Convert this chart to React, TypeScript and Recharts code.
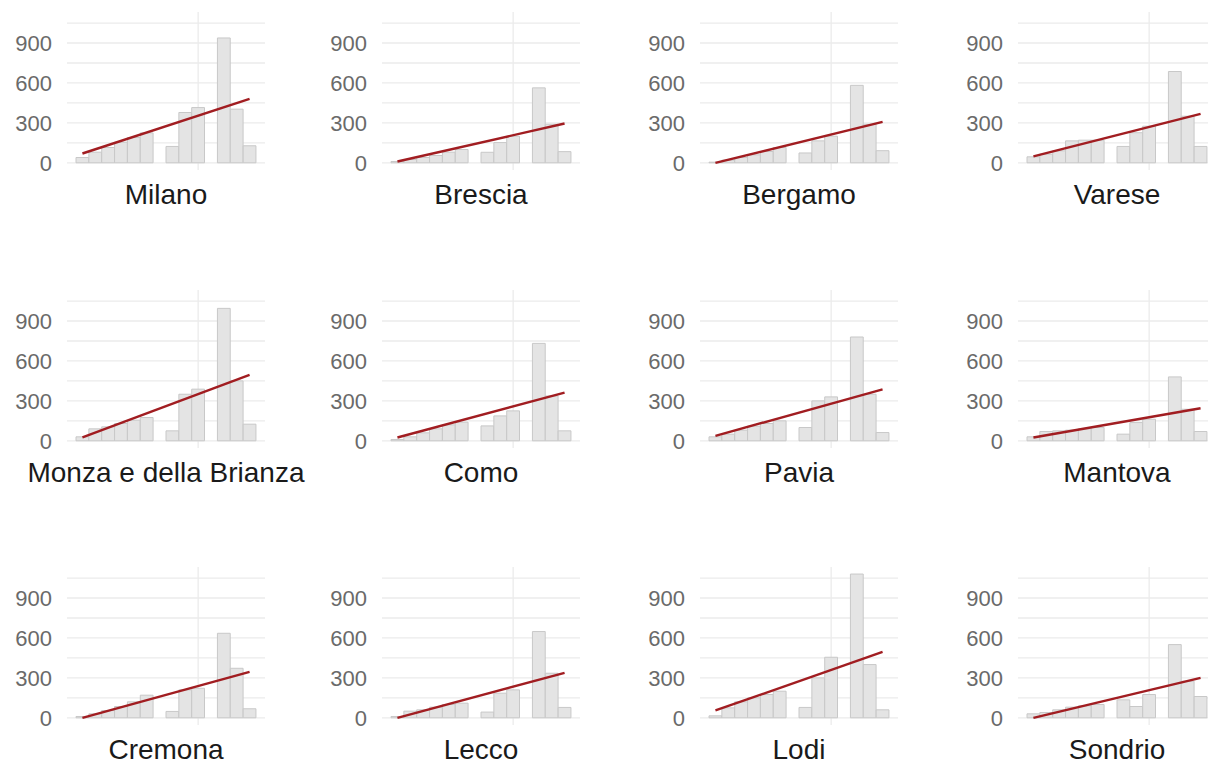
import { ComposedChart, Bar, Line, XAxis, YAxis, CartesianGrid } from 'recharts';

const provinces = [
  'Milano', 'Brescia', 'Bergamo', 'Varese',
  'Monza e della Brianza', 'Como', 'Pavia', 'Mantova',
  'Cremona', 'Lecco', 'Lodi', 'Sondrio',
];

// x slots of the bars (6 and 10 are empty)
const slots = [0, 1, 2, 3, 4, 5, 7, 8, 9, 11, 12, 13];

const milano = [40, 80, 115, 155, 190, 225, 123, 378, 415, 938, 403, 128];
const brescia = [10, 25, 40, 55, 80, 100, 79, 152, 200, 563, 290, 84];
const bergamo = [5, 20, 40, 60, 85, 115, 74, 165, 200, 582, 290, 91];
const varese = [45, 65, 90, 165, 170, 170, 123, 226, 275, 686, 350, 123];
const monza = [30, 90, 105, 130, 155, 175, 75, 350, 388, 995, 450, 125];
const como = [10, 30, 60, 90, 120, 140, 112, 187, 225, 732, 337, 75];
const pavia = [30, 50, 80, 110, 130, 150, 100, 300, 330, 780, 350, 62];
const mantova = [30, 70, 75, 80, 90, 100, 50, 137, 162, 480, 237, 70];
const cremona = [10, 30, 55, 85, 120, 170, 48, 210, 222, 635, 372, 68];
const lecco = [10, 50, 60, 80, 100, 110, 43, 185, 210, 648, 335, 78];
const lodi = [15, 75, 120, 150, 175, 200, 78, 300, 455, 1080, 400, 60];
const sondrio = [30, 40, 60, 80, 90, 100, 135, 85, 175, 550, 275, 160];

const counts = [milano, brescia, bergamo, varese, monza, como, pavia, mantova, cremona, lecco, lodi, sondrio];

// fitted trend at first and last slot
const trendStart = [70, 10, 0, 49, 25, 25, 37, 25, 0, 0, 55, 0];
const trendEnd = [480, 295, 307, 368, 495, 362, 387, 245, 345, 338, 495, 300];

const yTicks = [0, 300, 600, 900];
const gridValues = [0, 150, 300, 450, 600, 750, 900, 1050];

const colLeft = [67, 382, 700, 1018];
const rowTop = [12, 290, 567];
const PLOT_W = 198;
const PLOT_H = 158;
const AXIS_W = 67;
const PAD_B = 14;

function Panel({ index }: { index: number }) {
  const values = counts[index];
  const last = slots[slots.length - 1];
  const data = slots.map((slot, i) => ({
    slot,
    n: values[i],
    trend: slot === slots[0] ? trendStart[index] : slot === last ? trendEnd[index] : null,
  }));
  const left = colLeft[index % 4];
  const top = rowTop[Math.floor(index / 4)];

  return (
    <div style={{ position: 'absolute', left: left - AXIS_W, top }}>
      <ComposedChart
        width={AXIS_W + PLOT_W}
        height={PLOT_H + PAD_B}
        data={data}
        margin={{ top: 0, right: 0, bottom: PAD_B, left: 0 }}
      >
        <CartesianGrid
          horizontalValues={gridValues}
          verticalValues={[9]}
          stroke="#ebebeb"
          strokeWidth={1.3}
        />
        <XAxis type="number" dataKey="slot" domain={[-1.2, 14.2]} hide allowDataOverflow />
        <YAxis
          type="number"
          domain={[-54, 1133]}
          allowDataOverflow
          ticks={yTicks}
          interval={0}
          width={AXIS_W}
          axisLine={false}
          tickLine={false}
          tickSize={0}
          tickMargin={15}
          tick={{ fontSize: 22, fill: '#6a6a6a', fontFamily: 'Liberation Sans, Arial, sans-serif' }}
        />
        <Bar dataKey="n" barSize={12.8} fill="#e4e4e4" stroke="#c8c8c8" strokeWidth={1} isAnimationActive={false} />
        <Line
          type="linear"
          dataKey="trend"
          stroke="#a11d21"
          strokeWidth={2.4}
          dot={false}
          connectNulls
          isAnimationActive={false}
        />
      </ComposedChart>
      <div
        style={{
          position: 'absolute',
          left: AXIS_W - 60,
          width: PLOT_W + 120,
          top: PLOT_H + 8,
          textAlign: 'center',
          fontSize: 28,
          lineHeight: '34px',
          color: '#1a1a1a',
          fontFamily: 'Liberation Sans, Arial, sans-serif',
          whiteSpace: 'nowrap',
        }}
      >
        {provinces[index]}
      </div>
    </div>
  );
}

export default function App() {
  return (
    <div
      style={{
        position: 'absolute',
        left: 0,
        top: 0,
        width: 1208,
        height: 765,
        overflow: 'hidden',
        background: '#ffffff',
      }}
    >
      {provinces.map((name, i) => (
        <Panel key={name} index={i} />
      ))}
    </div>
  );
}
